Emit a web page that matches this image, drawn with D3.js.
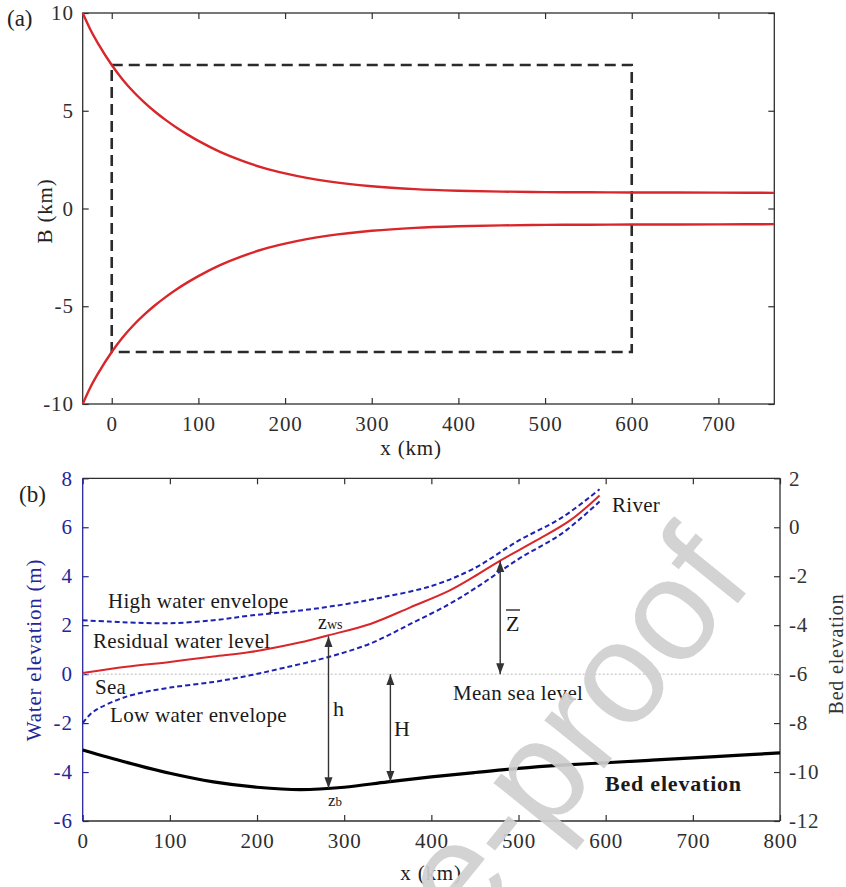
<!DOCTYPE html>
<html>
<head>
<meta charset="utf-8">
<script src="https://cdn.jsdelivr.net/npm/d3@7/dist/d3.min.js"></script>
<style>
  html, body { margin: 0; padding: 0; background: #fff; }
  svg { display: block; }
</style>
</head>
<body>
<svg id="fig" width="846" height="887"></svg>
<script>
// ---- (a) channel planform: half-width B along the estuary ----
const planX = [-33.5, -25, -15, 0, 12.5, 25, 37.5, 50, 62.5, 75, 87.5, 100, 125, 150, 175, 200, 225, 250, 300, 350, 400, 450, 500, 550, 600, 700, 764.5];
const planB = [10.0, 9.18, 8.38, 7.34, 6.6, 5.97, 5.43, 4.95, 4.52, 4.13, 3.78, 3.46, 2.9, 2.45, 2.08, 1.8, 1.57, 1.39, 1.14, 0.99, 0.91, 0.865, 0.84, 0.828, 0.82, 0.81, 0.8];
const boxX = [0, 600];
const boxB = [-7.34, 7.34];
const planXTicks = [0, 100, 200, 300, 400, 500, 600, 700];
const planYTicks = [-10, -5, 0, 5, 10];

// ---- (b) longitudinal profile ----
const residX = [0, 50, 100, 150, 192, 250, 280, 330, 376, 420, 448, 479, 520, 560, 593];
const residZ = [0.05, 0.3, 0.5, 0.72, 0.9, 1.3, 1.57, 2.05, 2.73, 3.4, 3.96, 4.64, 5.45, 6.3, 7.3];
const highX = [0, 30, 60, 100, 150, 192, 250, 300, 344, 400, 448, 500, 550, 593];
const highZ = [2.2, 2.15, 2.1, 2.08, 2.2, 2.39, 2.6, 2.85, 3.14, 3.6, 4.3, 5.45, 6.4, 7.55];
const lowX = [0, 10, 20, 40, 60, 100, 150, 192, 230, 280, 330, 376, 420, 450, 500, 550, 593];
const lowZ = [-2.0, -1.6, -1.37, -1.05, -0.82, -0.55, -0.32, -0.05, 0.25, 0.68, 1.25, 2.05, 2.85, 3.5, 4.7, 5.75, 7.05];
const bedX = [0, 50, 100, 150, 200, 250, 300, 350, 400, 450, 500, 550, 600, 650, 700, 750, 800];
const bedZ = [-3.1, -3.6, -4.05, -4.4, -4.62, -4.72, -4.62, -4.4, -4.2, -4.02, -3.85, -3.72, -3.62, -3.52, -3.42, -3.32, -3.22];
const profXTicks = [0, 100, 200, 300, 400, 500, 600, 700, 800];
const waterTicks = [-6, -4, -2, 0, 2, 4, 6, 8];
const bedTicks = [-12, -10, -8, -6, -4, -2, 0, 2];
// depth arrows: x position, start level, end level
const arrowX = [282, 353, 479];
const arrowFrom = [1.55, 0, 4.62];
const arrowTo = [-4.66, -4.4, 0];

const SERIF = "'Liberation Serif', 'Times New Roman', serif";
const AX = "#2e2e2e", RED = "#d8262a", BLUE = "#1e22b0", NAVY = "#25259a";
const svg = d3.select("#fig").style("font-family", SERIF);
const fmt = d => String(d);   // plain hyphen minus, as in the printed axes

const defs = svg.append("defs");
defs.append("marker").attr("id", "head").attr("viewBox", "0 0 10 10")
  .attr("refX", 10).attr("refY", 5).attr("markerWidth", 11).attr("markerHeight", 9)
  .attr("markerUnits", "userSpaceOnUse").attr("orient", "auto-start-reverse")
  .attr("preserveAspectRatio", "none")
  .append("path").attr("d", "M0,0.5 L10,5 L0,9.5 Z").attr("fill", "#333");

function styleAxis(g, color) {
  g.selectAll(".domain").remove();
  g.selectAll(".tick line").attr("stroke", color).attr("stroke-width", 1.2);
  g.selectAll(".tick text").attr("fill", color).attr("font-size", 21)
    .style("font-family", SERIF).style("letter-spacing", "0.8px");
}

// ================= panel (a) =================
const xa = d3.scaleLinear().domain([-33.5, 764.5]).range([82.7, 774.3]);
const ya = d3.scaleLinear().domain([-10, 10]).range([404, 13]);
const ga = svg.append("g");

ga.append("g").attr("transform", "translate(0,404)")
  .call(d3.axisBottom(xa).tickValues(planXTicks).tickSize(-6).tickPadding(12).tickFormat(fmt))
  .call(g => styleAxis(g, AX));
ga.append("g").attr("transform", "translate(0,13)")
  .call(d3.axisTop(xa).tickValues(planXTicks).tickSize(-6).tickFormat(""))
  .call(g => styleAxis(g, AX));
ga.append("g").attr("transform", "translate(82.7,0)")
  .call(d3.axisLeft(ya).tickValues(planYTicks).tickSize(-6).tickPadding(9).tickFormat(fmt))
  .call(g => styleAxis(g, AX));
ga.append("g").attr("transform", "translate(774.3,0)")
  .call(d3.axisRight(ya).tickValues(planYTicks).tickSize(-6).tickFormat(""))
  .call(g => styleAxis(g, AX));
ga.append("rect").attr("x", xa(-33.5)).attr("y", ya(10))
  .attr("width", xa(764.5) - xa(-33.5)).attr("height", ya(-10) - ya(10))
  .attr("fill", "none").attr("stroke", AX).attr("stroke-width", 1.3);

const planLine = d3.line().x(d => xa(d[0])).y(d => ya(d[1])).curve(d3.curveMonotoneX);
const upper = planX.map((x, i) => [x, planB[i]]);
const lower = planX.map((x, i) => [x, -planB[i]]);
ga.append("rect").attr("x", xa(boxX[0])).attr("y", ya(boxB[1]))
  .attr("width", xa(boxX[1]) - xa(boxX[0])).attr("height", ya(boxB[0]) - ya(boxB[1]))
  .attr("fill", "none").attr("stroke", "#2b2b2b").attr("stroke-width", 2.6)
  .attr("stroke-dasharray", "11,6");
[upper, lower].forEach(s => ga.append("path").attr("d", planLine(s))
  .attr("fill", "none").attr("stroke", RED).attr("stroke-width", 2.4));

const title = (sel, x, y, t, size, fill, rot) => sel.append("text")
  .attr("transform", `translate(${x},${y})` + (rot ? " rotate(-90)" : ""))
  .attr("text-anchor", "middle").attr("font-size", size).attr("fill", fill)
  .style("letter-spacing", "0.8px").text(t);

ga.append("text").attr("x", 7).attr("y", 26).attr("font-size", 23).attr("fill", "#222").text("(a)");
title(ga, 52, 211, "B (km)", 21, "#222", true);
title(ga, 411, 455, "x (km)", 21, "#222", false);

// ================= panel (b) =================
const xb = d3.scaleLinear().domain([0, 800]).range([82.7, 780]);
const yw = d3.scaleLinear().domain([-6, 8]).range([821, 478.3]);
const yb = d3.scaleLinear().domain([-12, 2]).range([821, 478.3]);
const gb = svg.append("g");

gb.append("g").attr("transform", "translate(0,821)")
  .call(d3.axisBottom(xb).tickValues(profXTicks).tickSize(-6).tickPadding(12).tickFormat(fmt))
  .call(g => styleAxis(g, AX));
gb.append("g").attr("transform", "translate(0,478.3)")
  .call(d3.axisTop(xb).tickValues(profXTicks).tickSize(-6).tickFormat(""))
  .call(g => styleAxis(g, AX));
gb.append("g").attr("transform", "translate(82.7,0)")
  .call(d3.axisLeft(yw).tickValues(waterTicks).tickSize(-6).tickPadding(10).tickFormat(fmt))
  .call(g => styleAxis(g, NAVY));
gb.append("g").attr("transform", "translate(780,0)")
  .call(d3.axisRight(yb).tickValues(bedTicks).tickSize(-6).tickPadding(9).tickFormat(fmt))
  .call(g => styleAxis(g, "#333"));
gb.append("line").attr("x1", 82.7).attr("x2", 780).attr("y1", 478.3).attr("y2", 478.3).attr("stroke", AX).attr("stroke-width", 1.3);
gb.append("line").attr("x1", 82.7).attr("x2", 780).attr("y1", 821).attr("y2", 821).attr("stroke", AX).attr("stroke-width", 1.3);
gb.append("line").attr("x1", 780).attr("x2", 780).attr("y1", 478.3).attr("y2", 821).attr("stroke", AX).attr("stroke-width", 1.3);
gb.append("line").attr("x1", 82.7).attr("x2", 82.7).attr("y1", 478.3).attr("y2", 821).attr("stroke", NAVY).attr("stroke-width", 1.3);

// mean sea level
gb.append("line").attr("x1", xb(0)).attr("x2", xb(800)).attr("y1", yw(0)).attr("y2", yw(0))
  .attr("stroke", "#b8b8b8").attr("stroke-width", 1).attr("stroke-dasharray", "2,2");

const profLine = d3.line().x(d => xb(d[0])).y(d => yw(d[1])).curve(d3.curveCatmullRom.alpha(0.5));
const zip = (xs, ys) => xs.map((x, i) => [x, ys[i]]);
gb.append("path").attr("d", profLine(zip(bedX, bedZ))).attr("fill", "none")
  .attr("stroke", "#000").attr("stroke-width", 3.2);
[zip(highX, highZ), zip(lowX, lowZ)].forEach(s => gb.append("path").attr("d", profLine(s))
  .attr("fill", "none").attr("stroke", BLUE).attr("stroke-width", 2).attr("stroke-dasharray", "5,3"));
gb.append("path").attr("d", profLine(zip(residX, residZ))).attr("fill", "none")
  .attr("stroke", RED).attr("stroke-width", 2);

arrowX.forEach((x, i) => gb.append("line")
  .attr("x1", xb(x)).attr("x2", xb(x)).attr("y1", yw(arrowFrom[i])).attr("y2", yw(arrowTo[i]))
  .attr("stroke", "#333").attr("stroke-width", 1.4)
  .attr("marker-start", "url(#head)").attr("marker-end", "url(#head)"));

const lab = (x, y, t, opt = {}) => gb.append("text").attr("x", x).attr("y", y)
  .attr("font-size", opt.size || 21).attr("fill", opt.fill || "#1a1a1a")
  .attr("font-weight", opt.weight || "normal").attr("text-anchor", opt.anchor || "start")
  .style("letter-spacing", (opt.ls == null ? 0.3 : opt.ls) + "px").text(t);

lab(108, 608, "High water envelope");
lab(93, 648, "Residual water level");
lab(95, 694, "Sea");
lab(110, 722, "Low water envelope");
lab(453, 700, "Mean sea level");
lab(612, 512, "River");
lab(605, 791, "Bed elevation", { weight: "bold", size: 22, ls: 0.8 });
lab(333, 716, "h", { size: 22 });
lab(394, 736, "H", { size: 22 });
// overbar Z
lab(506, 631, "Z", { size: 22 });
gb.append("line").attr("x1", 506).attr("x2", 520).attr("y1", 610).attr("y2", 610).attr("stroke", "#1a1a1a").attr("stroke-width", 1.3);
// z_ws and z_b
const zws = gb.append("text").attr("x", 318).attr("y", 629).attr("font-size", 20).attr("fill", "#1a1a1a");
zws.append("tspan").text("z");
zws.append("tspan").attr("font-size", 14).text("ws");
const zb = gb.append("text").attr("x", 328).attr("y", 806).attr("font-size", 17).attr("fill", "#1a1a1a");
zb.append("tspan").text("z");
zb.append("tspan").attr("font-size", 13).text("b");

gb.append("text").attr("x", 19).attr("y", 502).attr("font-size", 23).attr("fill", "#222").text("(b)");
title(gb, 41, 650, "Water elevation (m)", 21, NAVY, true);
title(gb, 843, 654, "Bed elevation", 20, "#333", true);
title(gb, 431, 880, "x (km)", 21, "#222", false);

// diagonal stamp across the lower panel
svg.append("text").attr("transform", "translate(755,582) rotate(-51)")
  .attr("text-anchor", "end").attr("font-size", 145)
  .style("font-family", "'Liberation Sans', Arial, sans-serif")
  .attr("fill", "#cfcfcf").attr("fill-opacity", 0.92).text("Journal Pre-proof");
</script>
</body>
</html>
